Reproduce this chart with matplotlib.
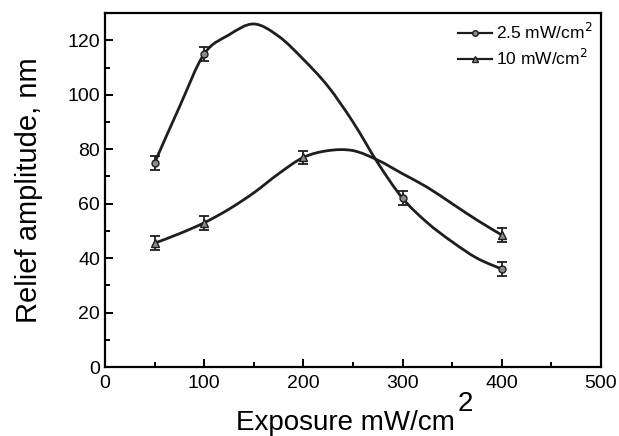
import numpy as np
import matplotlib
matplotlib.use('Agg')
import matplotlib.pyplot as plt
from matplotlib.ticker import MultipleLocator
from matplotlib.path import Path
from matplotlib.patches import PathPatch

plt.rcParams['font.family'] = ['Liberation Sans', 'DejaVu Sans']

# measured points
x_pts = [50, 100, 300, 400]
y_low = [75, 115, 62, 36]
err_low = [2.5, 2.5, 2.5, 2.5]

x_pts2 = [50, 100, 200, 400]
y_high = [45.5, 53, 77, 48.5]
err_high = [2.5, 2.5, 2.5, 2.5]

# fitted curves
curve_x = [50, 75, 100, 125, 150, 175, 200, 225, 250, 275, 300, 325, 350, 375, 400]
curve_low = [75, 95.5, 115, 122, 126, 121.5, 113, 103, 90, 75, 62, 53, 46, 40, 36]
curve_high = [45.5, 49, 53, 58, 64, 71, 77, 79.5, 79.5, 76, 71, 66, 60, 54, 48.5]


def smooth_path(xs, ys):
    # catmull-rom through the read points, drawn as cubic bezier segments
    p = np.column_stack([xs, ys]).astype(float)
    verts = [p[0]]
    codes = [Path.MOVETO]
    n = len(p)
    for i in range(n - 1):
        p0 = p[max(i - 1, 0)]
        p1 = p[i]
        p2 = p[i + 1]
        p3 = p[min(i + 2, n - 1)]
        verts += [p1 + (p2 - p0) / 6, p2 - (p3 - p1) / 6, p2]
        codes += [Path.CURVE4] * 3
    return Path(verts, codes)


fig = plt.figure(figsize=(6.19, 4.36), dpi=100)
ax = fig.add_axes([0.1696, 0.158, 0.8013, 0.812])

for cy in (curve_low, curve_high):
    ax.add_patch(PathPatch(smooth_path(curve_x, cy), fill=False, edgecolor='#1e1e1e', lw=2))

ax.errorbar(x_pts, y_low, yerr=err_low, fmt='o', ms=5, mfc='#8a8a8a', mec='#1e1e1e',
            ecolor='#1e1e1e', elinewidth=1.3, capsize=3.5, capthick=1.3, zorder=3)
ax.errorbar(x_pts2, y_high, yerr=err_high, fmt='^', ms=6, mfc='#8a8a8a', mec='#1e1e1e',
            ecolor='#1e1e1e', elinewidth=1.3, capsize=3.5, capthick=1.3, zorder=3)

# legend handles
ax.plot([], [], '-o', color='#1e1e1e', ms=4, mfc='#8a8a8a', lw=1.6, label='2.5 mW/cm$^2$')
ax.plot([], [], '-^', color='#1e1e1e', ms=5, mfc='#8a8a8a', lw=1.6, label='10 mW/cm$^2$')
ax.legend(loc='upper right', frameon=False, fontsize=12.5, handlelength=2.0,
          handletextpad=0.2, borderaxespad=0.1, labelspacing=0.35)

ax.set_xlim(0, 500)
ax.set_ylim(0, 130)
ax.xaxis.set_major_locator(MultipleLocator(100))
ax.xaxis.set_minor_locator(MultipleLocator(50))
ax.yaxis.set_major_locator(MultipleLocator(20))
ax.yaxis.set_minor_locator(MultipleLocator(10))
ax.tick_params(which='both', direction='in', labelsize=14, width=1.4)
ax.tick_params(which='major', length=6)
ax.tick_params(which='minor', length=3.5)
ax.tick_params(axis='x', pad=6)
for s in ax.spines.values():
    s.set_linewidth(1.6)

ax.set_ylabel('Relief amplitude, nm', fontsize=21)
ax.yaxis.set_label_coords(-0.125, 0.5)
ax.set_xlabel('Exposure mW/cm', fontsize=20)
ax.xaxis.set_label_coords(0.484, -0.12)
fig.text(458 / 619, 1 - 411 / 436, '2', fontsize=20, ha='left', va='baseline')

fig.savefig('out.png', dpi=100)
